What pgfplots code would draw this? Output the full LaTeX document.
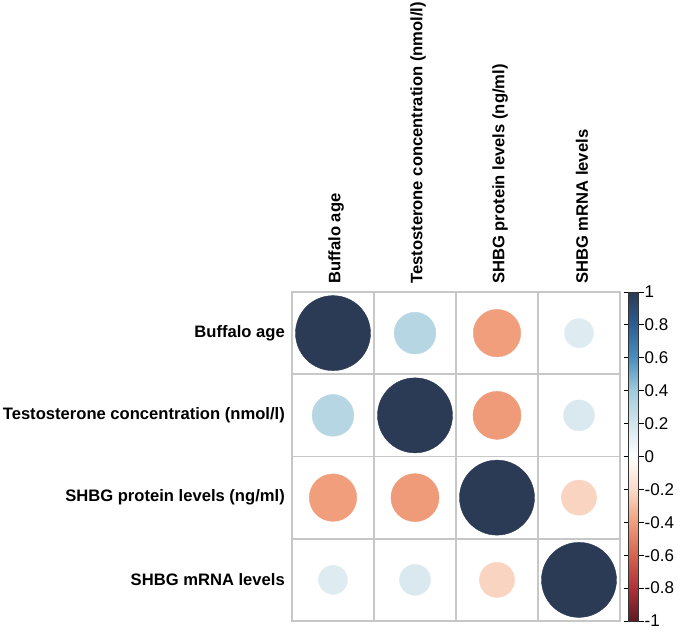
\documentclass[border=0pt]{standalone}
\usepackage{pgfplots}
\usepackage{pgfplotstable}
\usepackage{fontspec}
\setmainfont{Liberation Sans}
\pgfplotsset{compat=1.18}
\pgfplotstableread{
x y r
1 1 1
2 1 0.31
3 1 -0.40
4 1 0.15
1 2 0.31
2 2 1
3 2 -0.41
4 2 0.17
1 3 -0.40
2 3 -0.41
3 3 1
4 3 -0.22
1 4 0.15
2 4 0.17
3 4 -0.22
4 4 1
}\corrdata
\begin{document}
\begin{tikzpicture}
\begin{axis}[
  name=main,
  at={(0,0)}, anchor=south west,
  scale only axis,
  width=328pt, height=329pt,
  xmin=0.5, xmax=4.5, ymin=0.5, ymax=4.5,
  y dir=reverse,
  xtick={1,2,3,4}, ytick={1,2,3,4},
  xticklabels={Buffalo age, Testosterone concentration (nmol/l), SHBG protein levels (ng/ml), SHBG mRNA levels},
  yticklabels={Buffalo age, Testosterone concentration (nmol/l), SHBG protein levels (ng/ml), SHBG mRNA levels},
  xticklabel pos=upper,
  xticklabel style={xshift=3pt, yshift=8pt, rotate=90, anchor=west, font=\fontsize{16.6}{19}\selectfont\bfseries, inner sep=0pt},
  yticklabel style={anchor=east, font=\fontsize{16.6}{19}\selectfont\bfseries, inner sep=0pt, xshift=-7pt},
  minor xtick={1.5,2.5,3.5}, minor ytick={1.5,2.5,3.5},
  xminorgrids, yminorgrids,
  minor grid style={draw=black!22, line width=1.6pt},
  axis line style={draw=black!22, line width=1.6pt},
  major tick length=0pt, minor tick length=0pt,
  colormap={corr}{
    rgb255(0)=(94,26,34)
    rgb255(1)=(176,48,58)
    rgb255(2)=(213,100,79)
    rgb255(3)=(240,158,124)
    rgb255(4)=(250,218,200)
    rgb255(5)=(255,255,255)
    rgb255(6)=(211,228,236)
    rgb255(7)=(160,203,220)
    rgb255(8)=(74,143,191)
    rgb255(9)=(44,95,148)
    rgb255(10)=(43,58,85)
  },
  point meta min=-1, point meta max=1,
  colorbar right,
  colorbar style={
    at={([xshift=5pt]main.north east)}, anchor=north west,
    width=10pt,
    ytick={-1,-0.8,-0.6,-0.4,-0.2,0,0.2,0.4,0.6,0.8,1},
    yticklabels={-1,-0.8,-0.6,-0.4,-0.2,0,0.2,0.4,0.6,0.8,1},
    yticklabel style={font=\fontsize{17}{19}\selectfont, inner sep=0pt, xshift=1pt},
    major tick length=5pt,
    tick align=outside,
    tick style={black, line width=0.8pt},
    axis line style={draw=black!80, line width=0.8pt},
  },
]
\addplot[
  scatter, only marks, mark=*,
  scatter/use mapped color={draw=mapped color, fill=mapped color},
  point meta=\thisrow{r},
  visualization depends on={37.5*sqrt(abs(\thisrow{r})) \as \rad},
  scatter/@pre marker code/.append style={/tikz/mark size=\rad},
] table[x=x, y=y] {\corrdata};
\end{axis}
\pgfresetboundingbox
\useasboundingbox (-292pt,-18pt) rectangle (393pt,621pt);
\end{tikzpicture}
\end{document}
